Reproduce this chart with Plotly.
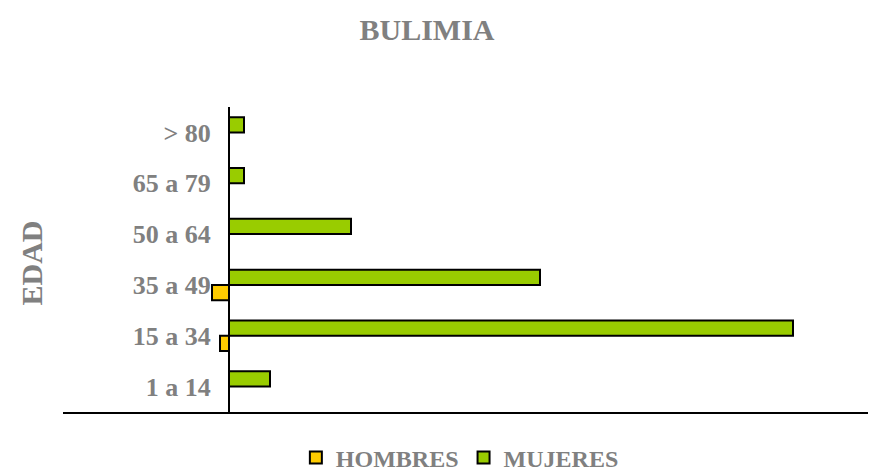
import plotly.graph_objects as go

categories = ["1 a 14", "15 a 34", "35 a 49", "50 a 64", "65 a 79", "> 80"]
hombres = [None, -9, -17, None, None, None]
mujeres = [41, 564, 311, 122, 15, 15]

gray = "#808080"
font_family = "Liberation Serif"

fig = go.Figure()
fig.add_trace(go.Bar(
    y=categories, x=hombres, orientation="h", name="<b>HOMBRES</b>",
    marker=dict(color="#FFCC00", line=dict(color="black", width=2)),
))
fig.add_trace(go.Bar(
    y=categories, x=mujeres, orientation="h", name="<b>MUJERES</b>",
    marker=dict(color="#99CC00", line=dict(color="black", width=2)),
))

L, R, T, B = 63, 3, 107, 61
W, H = 871, 473
pw, ph = W - L - R, H - T - B
xmin, xmax = -166, 639
fig.update_layout(
    width=W, height=H,
    margin=dict(l=L, r=R, t=T, b=B, autoexpand=False),
    plot_bgcolor="white", paper_bgcolor="white",
    barmode="group", bargap=0.4, bargroupgap=0,
    font=dict(family=font_family, color=gray, size=26),
    title=dict(text="<b>BULIMIA</b>", x=427/W, xanchor="center",
               y=1 - 29/H, yanchor="middle",
               font=dict(family=font_family, size=30, color=gray)),
    legend=dict(orientation="h", x=0.493, xanchor="center",
                y=(H - B - 458) / ph, yanchor="middle",
                font=dict(family=font_family, size=24, color=gray),
                itemwidth=30, traceorder="normal", tracegroupgap=0,
                borderwidth=0),
    showlegend=True,
    xaxis=dict(range=[xmin, xmax], showgrid=False, zeroline=False,
               showticklabels=False, showline=True, linecolor="black",
               linewidth=2, ticks="", fixedrange=True),
    yaxis=dict(anchor="free", position=(0 - xmin) / (xmax - xmin),
               showgrid=False, zeroline=False, showline=True,
               linecolor="black", linewidth=2, ticks="",
               ticklabelstandoff=12, fixedrange=True,
               tickfont=dict(family=font_family, size=26, color=gray),
               tickprefix="<b>", ticksuffix="</b>"),
    annotations=[dict(text="<b>EDAD</b>", x=(31 - L) / pw, xref="paper",
                      xanchor="center", y=0.5 - 4 / ph, yref="paper",
                      yanchor="middle", showarrow=False, textangle=-90,
                      font=dict(family=font_family, size=30, color=gray))],
)
fig.write_html("out.html", config={"displayModeBar": False},
               post_script="document.body.style.margin='0';document.body.style.overflow='hidden';")
